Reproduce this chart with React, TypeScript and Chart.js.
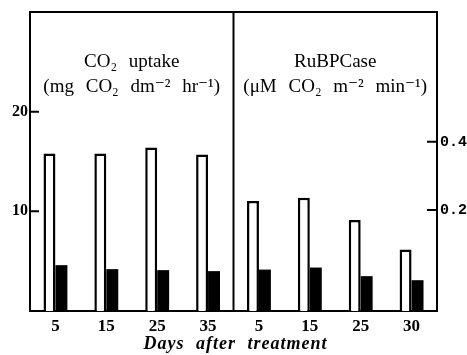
import React, { useEffect, useRef } from 'react';
import { Chart, registerables } from 'chart.js';

Chart.register(...registerables);

const categories = ['5', '15', '25', '35', '5', '15', '25', '30'];
const co2Control = [15.8, 15.8, 16.4, 15.7];
const co2Treated = [4.6, 4.2, 4.1, 4.0];
const rubpControl = [0.218, 0.224, 0.18, 0.122];
const rubpTreated = [0.082, 0.086, 0.069, 0.061];
const leftTickValues = [10, 20];
const leftTickLabels = ['10', '20'];
const rightTickValues = [0.2, 0.335];
const rightTickLabels = ['0.2', '0.4'];
const panelLabels = [
  ['CO₂ uptake', '(mg CO₂ dm⁻² hr⁻¹)'],
  ['RuBPCase', '(μM CO₂ m⁻² min⁻¹)'],
];
const xTitle = 'Days after treatment';

const NA = [null, null, null, null];

const framePlugin = {
  id: 'frame',
  afterDraw(chart: any) {
    const { ctx, chartArea } = chart;
    const { left, right, top, bottom } = chartArea;
    const xs = chart.scales.x;
    const mid = (xs.getPixelForValue(3) + xs.getPixelForValue(4)) / 2;
    ctx.save();
    ctx.strokeStyle = '#000';
    ctx.lineWidth = 2;
    ctx.beginPath();
    ctx.moveTo(left - 1, top);
    ctx.lineTo(right + 1, top);
    ctx.moveTo(mid, top);
    ctx.lineTo(mid, bottom);
    const ys = chart.scales.y;
    leftTickValues.forEach((v) => {
      const p = ys.getPixelForValue(v);
      ctx.moveTo(left, p);
      ctx.lineTo(left + 9, p);
    });
    const y1 = chart.scales.y1;
    rightTickValues.forEach((v) => {
      const p = y1.getPixelForValue(v);
      ctx.moveTo(right, p);
      ctx.lineTo(right - 10, p);
    });
    ctx.stroke();

    ctx.fillStyle = '#000';
    ctx.textAlign = 'center';
    ctx.textBaseline = 'middle';
    ctx.font = '19px "Liberation Serif", "DejaVu Serif", serif';
    try { (ctx as any).wordSpacing = '7px'; } catch (e) {}
    const centers = [(left + mid) / 2, (mid + right) / 2];
    panelLabels.forEach((lines, i) => {
      ctx.fillText(lines[0], centers[i], top + 50);
      ctx.fillText(lines[1], centers[i], top + 75);
    });
    ctx.font = 'italic bold 18px "Liberation Serif", "DejaVu Serif", serif';
    try { (ctx as any).wordSpacing = '6px'; (ctx as any).letterSpacing = '1px'; } catch (e) {}
    ctx.fillText(xTitle, (left + right) / 2 + 2, bottom + 33);
    ctx.restore();
  },
};

export default function App() {
  const ref = useRef<HTMLCanvasElement | null>(null);
  useEffect(() => {
    if (!ref.current) return;
    const chart = new Chart(ref.current, {
      type: 'bar',
      data: {
        labels: categories,
        datasets: [
          {
            data: [...co2Control, ...NA],
            yAxisID: 'y',
            backgroundColor: '#fff',
            borderColor: '#000',
            borderWidth: 2.5,
            skipNull: true,
          } as any,
          {
            data: [...co2Treated, ...NA],
            yAxisID: 'y',
            backgroundColor: '#000',
            borderWidth: 0,
            skipNull: true,
          } as any,
          {
            data: [...NA, ...rubpControl],
            yAxisID: 'y1',
            backgroundColor: '#fff',
            borderColor: '#000',
            borderWidth: 2.5,
            skipNull: true,
          } as any,
          {
            data: [...NA, ...rubpTreated],
            yAxisID: 'y1',
            backgroundColor: '#000',
            borderWidth: 0,
            skipNull: true,
          } as any,
        ],
      },
      options: {
        animation: false,
        responsive: false,
        maintainAspectRatio: false,
        layout: { padding: { top: 9, left: 0, right: 0, bottom: 0 } },
        datasets: { bar: { categoryPercentage: 0.47, barPercentage: 1 } } as any,
        plugins: { legend: { display: false }, tooltip: { enabled: false } },
        scales: {
          x: {
            grid: { display: false, drawTicks: false },
            border: { display: true, color: '#000', width: 2 },
            ticks: {
              color: '#000',
              padding: 5,
              font: { family: '"Liberation Serif", serif', size: 17, weight: 'bold' },
              maxRotation: 0,
              autoSkip: false,
            },
            afterFit: (s: any) => { s.height = 44; },
          },
          y: {
            position: 'left',
            min: 0,
            max: 30,
            grid: { display: false, drawTicks: false },
            border: { display: true, color: '#000', width: 2 },
            afterBuildTicks: (s: any) => { s.ticks = leftTickValues.map((v) => ({ value: v })); },
            ticks: {
              color: '#000',
              padding: 2,
              font: { family: '"Liberation Serif", serif', size: 16, weight: 'bold' },
              callback: (_v: any, i: number) => leftTickLabels[i],
            },
            afterFit: (s: any) => { s.width = 30; },
          },
          y1: {
            position: 'right',
            min: 0,
            max: 0.592,
            grid: { display: false, drawTicks: false },
            border: { display: true, color: '#000', width: 2 },
            afterBuildTicks: (s: any) => { s.ticks = rightTickValues.map((v) => ({ value: v })); },
            ticks: {
              color: '#000',
              padding: 3,
              font: { family: '"Liberation Mono", monospace', size: 15, weight: 'bold' },
              callback: (_v: any, i: number) => rightTickLabels[i],
            },
            afterFit: (s: any) => { s.width = 30; },
          },
        },
      } as any,
      plugins: [framePlugin],
    });
    return () => chart.destroy();
  }, []);
  return (
    <div style={{ position: 'fixed', left: 0, top: 0, width: 467, height: 355, background: '#fff' }}>
      <canvas ref={ref} width={467} height={355} style={{ width: 467, height: 355 }} />
    </div>
  );
}
